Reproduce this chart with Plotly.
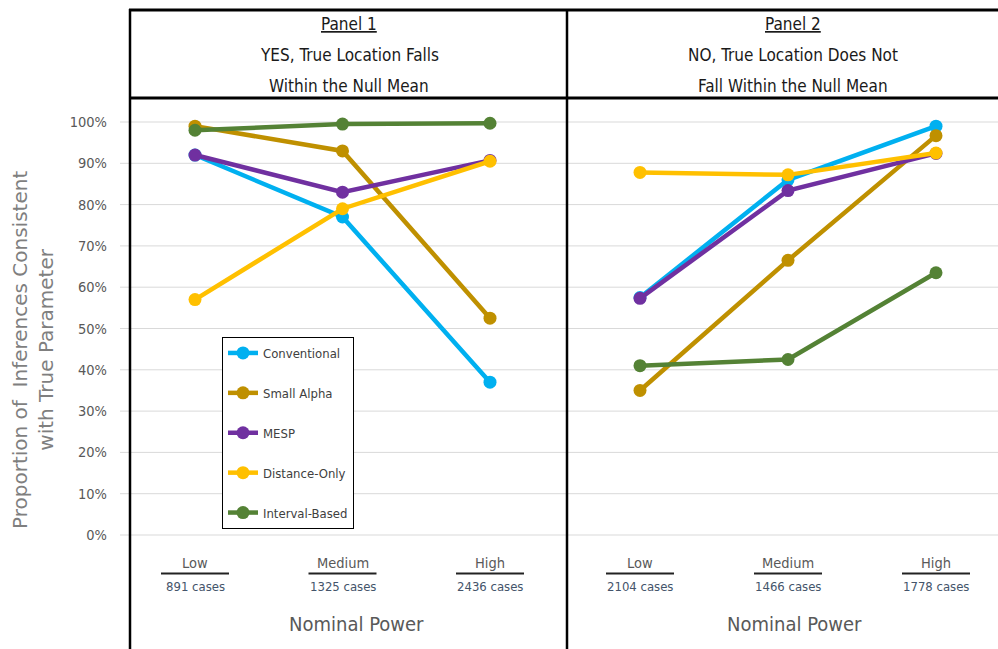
import plotly.graph_objects as go

W, H = 998, 649

categories = ["Low", "Medium", "High"]
cases_panel1 = ["891 cases", "1325 cases", "2436 cases"]
cases_panel2 = ["2104 cases", "1466 cases", "1778 cases"]

series_names = ["Conventional", "Small Alpha", "MESP", "Distance-Only", "Interval-Based"]
series_colors = ["#00B0F0", "#BF9000", "#7030A0", "#FFC000", "#548235"]

panel1_conventional = [92, 77, 37]
panel1_small_alpha = [99, 93, 52.5]
panel1_mesp = [92, 83, 90.7]
panel1_distance_only = [57, 79, 90.5]
panel1_interval_based = [98, 99.5, 99.7]

panel2_conventional = [57.5, 86, 99]
panel2_small_alpha = [35, 66.5, 96.7]
panel2_mesp = [57.3, 83.4, 92.4]
panel2_distance_only = [87.8, 87.2, 92.5]
panel2_interval_based = [41, 42.5, 63.5]

panel1 = [panel1_conventional, panel1_small_alpha, panel1_mesp, panel1_distance_only, panel1_interval_based]
panel2 = [panel2_conventional, panel2_small_alpha, panel2_mesp, panel2_distance_only, panel2_interval_based]

ytick_vals = list(range(0, 101, 10))
ytick_text = [f"{v}%" for v in ytick_vals]

def px(x):
    return x / W

def py(y):
    return 1 - y / H

NARROW = "Liberation Sans Narrow, DejaVu Sans Condensed, Arial Narrow, sans-serif"

fig = go.Figure()
xvals = [0, 1, 2]
for name, color, v1, v2 in zip(series_names, series_colors, panel1, panel2):
    fig.add_trace(go.Scatter(
        x=xvals, y=v1, name=name, mode="lines+markers", legendgroup=name,
        line=dict(color=color, width=4.5), marker=dict(color=color, size=13),
        xaxis="x", yaxis="y", cliponaxis=False,
    ))
    fig.add_trace(go.Scatter(
        x=xvals, y=v2, name=name, mode="lines+markers", legendgroup=name, showlegend=False,
        line=dict(color=color, width=4.5), marker=dict(color=color, size=13),
        xaxis="x2", yaxis="y", cliponaxis=False,
    ))

# y mapping: 0% at px 535, 100% at px 122
scale = (535 - 122) / 100.0
y_lo = (535 - 560) / scale
y_hi = (535 - 98) / scale

# x mapping
p1_low, p1_step = 195, 147.5
p2_low, p2_step = 640, 148.0
x1_range = [(130 - p1_low) / p1_step, (567 - p1_low) / p1_step]
x2_range = [(567 - p2_low) / p2_step, (998 - p2_low) / p2_step]

shapes = []
for v in ytick_vals:
    shapes.append(dict(type="line", xref="paper", yref="y", x0=px(120), x1=1, y0=v, y1=v,
                       line=dict(color="#D9D9D9", width=1), layer="below"))
frame = "#000000"
shapes += [
    dict(type="line", xref="paper", yref="paper", x0=px(129), x1=1, y0=py(10), y1=py(10), line=dict(color=frame, width=3)),
    dict(type="line", xref="paper", yref="paper", x0=px(129), x1=1, y0=py(98), y1=py(98), line=dict(color=frame, width=3)),
    dict(type="line", xref="paper", yref="paper", x0=px(130), x1=px(130), y0=py(9), y1=0, line=dict(color=frame, width=2.5)),
    dict(type="line", xref="paper", yref="paper", x0=px(567), x1=px(567), y0=py(9), y1=0, line=dict(color=frame, width=2.5)),
]

annotations = []
for xr, cases, title_x in (("x", cases_panel1, 356), ("x2", cases_panel2, 794)):
    for i, (cat, cs) in enumerate(zip(categories, cases)):
        annotations.append(dict(xref=xr, yref="paper", x=i, y=py(563), text=cat, showarrow=False,
                                font=dict(family=NARROW, size=14.5, color="#595959"),
                                xanchor="center", yanchor="middle"))
        annotations.append(dict(xref=xr, yref="paper", x=i, y=py(586), text=cs, showarrow=False,
                                font=dict(family=NARROW, size=13, color="#44546A"),
                                xanchor="center", yanchor="middle"))
        half = 34 / (p1_step if xr == "x" else p2_step)
        shapes.append(dict(type="line", xref=xr, yref="paper", x0=i - half, x1=i + half,
                           y0=py(573.5), y1=py(573.5), line=dict(color="#222222", width=2)))
    annotations.append(dict(xref="paper", yref="paper", x=px(title_x), y=py(624), text="Nominal Power",
                            showarrow=False, font=dict(family=NARROW, size=20, color="#595959"),
                            xanchor="center", yanchor="middle"))

headers = [
    (349, ["<u>Panel 1</u>", "YES, True Location Falls", "Within the Null Mean"]),
    (793, ["<u>Panel 2</u>", "NO, True Location Does Not", "Fall Within the Null Mean"]),
]
for cx, lines in headers:
    for ly, t in zip([24, 55, 86], lines):
        annotations.append(dict(xref="paper", yref="paper", x=px(cx), y=py(ly), text=t, showarrow=False,
                                font=dict(family=NARROW, size=17, color="#1a1a1a"),
                                xanchor="center", yanchor="middle"))

annotations.append(dict(xref="paper", yref="paper", x=px(33), y=py(350), textangle=-90, showarrow=False,
                        text="Proportion of  Inferences Consistent<br>with True Parameter",
                        font=dict(family="DejaVu Sans, Verdana, sans-serif", size=20, color="#7F7F7F"),
                        xanchor="center", yanchor="middle"))

fig.update_layout(
    width=W, height=H, margin=dict(l=0, r=0, t=0, b=0),
    paper_bgcolor="white", plot_bgcolor="white",
    xaxis=dict(domain=[px(130), px(567)], range=x1_range, showgrid=False, zeroline=False,
               showticklabels=False, showline=False, fixedrange=True),
    xaxis2=dict(domain=[px(567), 1], range=x2_range, showgrid=False, zeroline=False,
                showticklabels=False, showline=False, anchor="y", fixedrange=True),
    yaxis=dict(domain=[py(560), py(98)], range=[y_lo, y_hi], showgrid=False, zeroline=False,
               tickvals=ytick_vals, ticktext=ytick_text, ticks="", ticklabelstandoff=22,
               tickfont=dict(family=NARROW, size=14.5, color="#595959"), showline=False, fixedrange=True),
    showlegend=True,
    legend=dict(x=px(222), y=py(337), xanchor="left", yanchor="top",
                bordercolor="#000000", borderwidth=1, bgcolor="white",
                font=dict(family=NARROW, size=13, color="#404040"),
                traceorder="grouped", tracegroupgap=20, itemwidth=30),
    shapes=shapes, annotations=annotations,
)

fig.write_html("out.html", config={"displayModeBar": False},
               post_script="document.body.style.margin='0';document.body.style.overflow='hidden';")
